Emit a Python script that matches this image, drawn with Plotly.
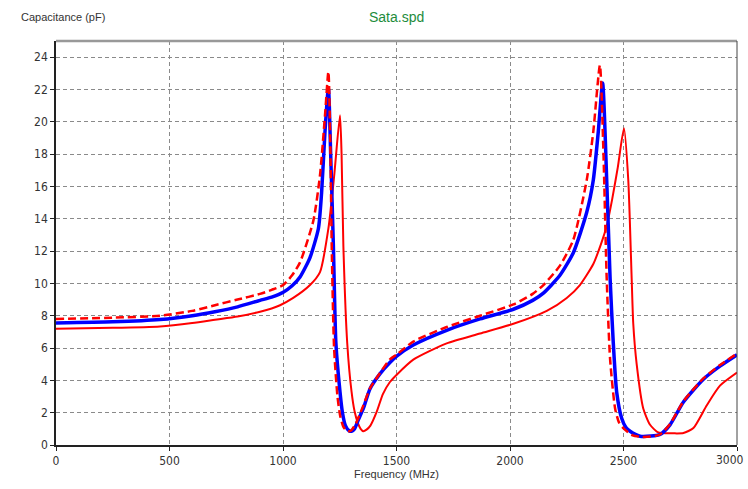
import plotly.graph_objects as go

# Measured capacitance vs frequency for three port configurations
freq_blue = [0, 250, 458, 600, 700, 800, 899, 950, 1001, 1040, 1075, 1119, 1156, 1170,
             1185, 1200, 1210, 1222, 1233, 1251, 1262, 1275, 1290, 1302, 1315, 1330,
             1354, 1383, 1427, 1471, 1501, 1574, 1721, 1868, 2015, 2100, 2147, 2220,
             2279, 2338, 2367, 2389, 2408, 2426, 2441, 2455, 2470, 2492, 2510, 2529,
             2573, 2620, 2661, 2705, 2764, 2852, 2925, 3000]
cap_blue = [7.55, 7.62, 7.76, 8.0, 8.25, 8.55, 8.95, 9.15, 9.45, 9.85, 10.4, 11.6, 13.4, 15.6,
            19.4, 22.1, 18.0, 12.3, 6.3, 3.3, 2.0, 1.2, 0.9, 0.85, 1.0, 1.5,
            2.26, 3.47, 4.4, 5.1, 5.5, 6.19, 7.1, 7.8, 8.4, 8.95, 9.4, 10.5,
            11.9, 14.4, 16.4, 19.4, 22.4, 16.4, 10.3, 6.3, 3.27, 1.65, 1.1, 0.85,
            0.54, 0.55, 0.65, 1.25, 2.66, 4.07, 4.88, 5.58]

freq_dash = [0, 250, 458, 600, 700, 800, 899, 950, 1001, 1040, 1075, 1134, 1163, 1185,
             1200, 1208, 1215, 1225, 1240, 1252, 1265, 1278, 1288, 1300, 1320, 1350,
             1383, 1427, 1471, 1501, 1574, 1721, 1868, 2015, 2100, 2147, 2220, 2279,
             2338, 2367, 2396, 2411, 2426, 2441, 2463, 2480, 2499, 2540, 2580, 2620,
             2661, 2705, 2764, 2852, 2925, 3000]
cap_dash = [7.8, 7.88, 8.0, 8.3, 8.65, 9.0, 9.35, 9.6, 9.9, 10.5, 11.3, 13.9, 16.7, 20.4,
            23.1, 19.0, 12.0, 6.0, 3.0, 1.8, 1.15, 0.9, 0.85, 0.9, 1.3, 2.3,
            3.5, 4.45, 5.3, 5.6, 6.4, 7.3, 8.0, 8.7, 9.35, 9.9, 11.1, 12.7,
            16.4, 19.4, 23.5, 18.4, 10.3, 5.3, 2.26, 1.4, 1.05, 0.6, 0.5, 0.52,
            0.65, 1.3, 2.7, 4.12, 4.95, 5.65]

freq_red = [0, 250, 458, 600, 700, 800, 899, 950, 987, 1045, 1119, 1163, 1200, 1225,
            1251, 1258, 1266, 1283, 1302, 1315, 1330, 1342, 1354, 1368, 1385, 1413,
            1440, 1471, 1501, 1574, 1721, 1868, 2015, 2162, 2250, 2308, 2367, 2400,
            2425, 2450, 2475, 2502, 2521, 2536, 2543, 2558, 2587, 2617, 2650, 2675,
            2720, 2764, 2808, 2867, 2925, 3000]
cap_red = [7.2, 7.25, 7.34, 7.55, 7.75, 7.95, 8.25, 8.45, 8.65, 9.1, 9.9, 10.7, 13.4, 16.6,
           20.4, 18.0, 12.3, 6.3, 3.3, 2.1, 1.35, 1.0, 0.85, 0.95, 1.2, 2.06,
           3.15, 3.9, 4.35, 5.28, 6.29, 6.9, 7.5, 8.3, 9.1, 9.9, 11.2, 12.4,
           13.5, 15.2, 17.2, 19.6, 16.4, 10.3, 7.5, 5.0, 2.26, 1.25, 0.8, 0.74,
           0.72, 0.74, 1.05, 2.46, 3.67, 4.48]

x_ticks = [0, 500, 1000, 1500, 2000, 2500, 3000]
y_ticks = list(range(0, 25, 2))

tick_font = dict(family="Liberation Sans Narrow, DejaVu Sans Condensed, Arial", size=12, color="#333333")

fig = go.Figure()
fig.add_trace(go.Scatter(x=freq_red, y=cap_red, mode="lines",
                         line=dict(color="#ff0000", width=2, shape="spline", smoothing=0.6)))
fig.add_trace(go.Scatter(x=freq_blue, y=cap_blue, mode="lines",
                         line=dict(color="#0000ff", width=3.5, shape="spline", smoothing=0.6)))
fig.add_trace(go.Scatter(x=freq_dash, y=cap_dash, mode="lines",
                         line=dict(color="#ff0000", width=2.5, dash="8px,4px",
                                   shape="spline", smoothing=0.6)))

# The last tick label sits at the right page edge, so it is drawn as an annotation
fig.update_layout(
    width=748, height=489,
    margin=dict(l=56, r=11, t=41, b=35),
    paper_bgcolor="white", plot_bgcolor="white",
    showlegend=False,
    xaxis=dict(range=[0, 3000], tickvals=x_ticks,
               ticktext=[str(v) for v in x_ticks[:-1]] + [""],
               ticks="outside", ticklen=4,
               tickcolor="#222222", showline=True, linecolor="#222222", linewidth=1.5,
               showgrid=True, gridcolor="#8a8a8a", griddash="4px,3px", gridwidth=1,
               zeroline=False, tickfont=tick_font,
               title=dict(text="Frequency (MHz)", standoff=2,
                          font=dict(family="Liberation Sans, Arial", size=11, color="#333333"))),
    yaxis=dict(range=[0, 25], tickvals=y_ticks, ticks="outside", ticklen=4,
               tickcolor="#222222", showline=True, linecolor="#222222", linewidth=1.5,
               showgrid=True, gridcolor="#8a8a8a", griddash="4px,3px", gridwidth=1,
               zeroline=False, tickfont=tick_font),
    shapes=[
        dict(type="line", xref="paper", yref="paper", x0=0, x1=1, y0=1, y1=1,
             line=dict(color="#999999", width=2.5)),
        dict(type="line", xref="paper", yref="paper", x0=1, x1=1, y0=0, y1=1,
             line=dict(color="#444444", width=1)),
    ],
    annotations=[
        dict(text="Sata.spd", xref="paper", yref="paper", x=0.5, y=1, yshift=24,
             xanchor="center", yanchor="middle", showarrow=False,
             font=dict(family="Liberation Sans, Arial", size=14, color="#1e8c3c")),
        dict(text="Capacitance (pF)", xref="paper", yref="paper", x=0, xshift=-37,
             y=1, yshift=24, xanchor="left", yanchor="middle", showarrow=False,
             font=dict(family="Liberation Sans, Arial", size=11, color="#333333")),
        dict(text=str(x_ticks[-1]), xref="x", yref="paper", x=x_ticks[-1], y=0,
             yshift=-15, xshift=9, xanchor="right", yanchor="middle",
             showarrow=False, font=tick_font),
    ],
)

fig.write_html("out.html")
